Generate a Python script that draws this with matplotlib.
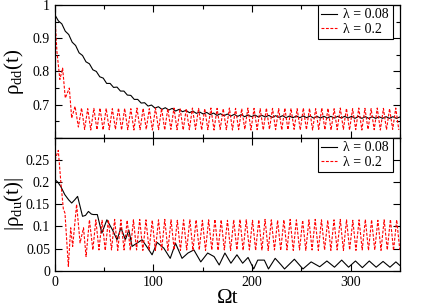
import numpy as np
import matplotlib

matplotlib.use("Agg")
import matplotlib.pyplot as plt
from matplotlib.ticker import MultipleLocator, FixedLocator, FixedFormatter

plt.rcParams["font.family"] = ["Liberation Serif", "DejaVu Serif"]
plt.rcParams["mathtext.fontset"] = "custom"
plt.rcParams["mathtext.rm"] = "Liberation Serif"
plt.rcParams["mathtext.it"] = "Liberation Serif:italic"

# ---- rho_dd(t), lambda = 0.08 (black, sampled every 3.5) ----
t_dd_slow = np.arange(0, 350.1, 3.5)
rho_dd_slow = [
    0.970, 0.952, 0.943, 0.921, 0.911, 0.888, 0.878, 0.856, 0.848, 0.829,
    0.823, 0.805, 0.800, 0.784, 0.780, 0.764, 0.764, 0.752, 0.753, 0.741,
    0.741, 0.729, 0.728, 0.716, 0.716, 0.705, 0.706, 0.696, 0.699, 0.690,
    0.694, 0.686, 0.691, 0.684, 0.689, 0.681, 0.686, 0.679, 0.683, 0.676,
    0.681, 0.674, 0.678, 0.672, 0.677, 0.670, 0.675, 0.668, 0.673, 0.667,
    0.672, 0.666, 0.671, 0.665, 0.670, 0.664, 0.669, 0.664, 0.669, 0.663,
    0.668, 0.663, 0.668, 0.662, 0.667, 0.662, 0.667, 0.661, 0.666, 0.661,
    0.666, 0.661, 0.666, 0.661, 0.666, 0.660, 0.665, 0.660, 0.665, 0.660,
    0.665, 0.660, 0.665, 0.660, 0.665, 0.660, 0.665, 0.659, 0.665, 0.659,
    0.664, 0.659, 0.664, 0.659, 0.664, 0.659, 0.664, 0.659, 0.664, 0.659,
    0.663,
]

# ---- rho_dd(t), lambda = 0.2 (red): transient + oscillating tail ----
t_dd_fast_head = [0, 2, 5, 7.8, 10.5, 14.6, 17, 20.4, 23.8]
rho_dd_fast_head = [0.968, 0.86, 0.776, 0.81, 0.72, 0.75, 0.66, 0.695, 0.633]
t_dd_fast_tail = np.linspace(27, 349, 104)
rho_dd_fast_tail = [
    0.690, 0.626, 0.688, 0.624, 0.689, 0.625, 0.690, 0.624,
    0.689, 0.625, 0.688, 0.626, 0.690, 0.624, 0.689, 0.625,
    0.688, 0.624, 0.690, 0.625, 0.689, 0.626, 0.688, 0.624,
    0.690, 0.625, 0.689, 0.624, 0.688, 0.626, 0.690, 0.625,
    0.689, 0.624, 0.688, 0.625, 0.690, 0.626, 0.689, 0.624,
    0.688, 0.625, 0.690, 0.624, 0.689, 0.626, 0.688, 0.625,
    0.690, 0.624, 0.689, 0.625, 0.688, 0.626, 0.690, 0.624,
    0.689, 0.625, 0.688, 0.624, 0.690, 0.626, 0.689, 0.625,
    0.688, 0.624, 0.690, 0.625, 0.689, 0.626, 0.688, 0.624,
    0.690, 0.625, 0.689, 0.624, 0.688, 0.626, 0.690, 0.625,
    0.689, 0.624, 0.688, 0.625, 0.690, 0.626, 0.689, 0.624,
    0.688, 0.625, 0.690, 0.624, 0.689, 0.626, 0.688, 0.625,
    0.690, 0.624, 0.689, 0.625, 0.688, 0.626, 0.690, 0.624,
]

# ---- |rho_du(t)|, lambda = 0.08 (black) ----
t_du_slow = [
    0, 3, 6, 10, 14, 17, 20, 23, 25, 28, 31, 34, 37, 39, 43, 47.6, 52.7,
    58.5, 63, 67, 71.5, 75, 78.3, 83, 88.4, 93, 98.6, 103.7, 110.5, 117,
    122.4, 129, 135, 141, 148, 155, 161.5, 166.7, 172.5, 178.6, 184.7,
    190.5, 196, 201.7, 205.8, 212.5, 216.7, 223.5, 229.6, 233, 243, 251.7,
    260, 268.7, 276, 283.7, 291, 298, 305, 312, 319, 326, 333, 340, 346, 350,
]
rho_du_slow = [
    0.206, 0.200, 0.190, 0.172, 0.160, 0.153, 0.160, 0.168, 0.150, 0.123,
    0.125, 0.134, 0.128, 0.127, 0.127, 0.085, 0.115, 0.092, 0.070, 0.097,
    0.070, 0.092, 0.055, 0.062, 0.070, 0.055, 0.036, 0.064, 0.051, 0.028,
    0.062, 0.028, 0.040, 0.047, 0.020, 0.040, 0.032, 0.013, 0.040, 0.017,
    0.036, 0.017, 0.030, 0.004, 0.024, 0.024, 0.004, 0.028, 0.013, 0.004,
    0.026, 0.004, 0.020, 0.009, 0.022, 0.008, 0.024, 0.008, 0.022, 0.007,
    0.022, 0.008, 0.021, 0.008, 0.020, 0.012,
]

# ---- |rho_du(t)|, lambda = 0.2 (red): transient + oscillating tail ----
t_du_fast_head = [0, 3.4, 6, 8.5, 10.2, 13.6, 16, 18, 22, 25.5, 29, 31.6, 35, 38.5]
rho_du_fast_head = [
    0.25, 0.272, 0.20, 0.14, 0.13, 0.01, 0.097, 0.055, 0.15, 0.063,
    0.097, 0.032, 0.115, 0.047,
]
t_du_fast_tail = np.linspace(41.5, 350, 98)
rho_du_fast_tail = [
    0.115, 0.047, 0.114, 0.046, 0.115, 0.047, 0.116, 0.046,
    0.115, 0.047, 0.114, 0.046, 0.115, 0.047, 0.116, 0.046,
    0.115, 0.047, 0.114, 0.046, 0.115, 0.047, 0.116, 0.046,
    0.115, 0.047, 0.114, 0.046, 0.115, 0.047, 0.116, 0.046,
    0.115, 0.047, 0.114, 0.046, 0.115, 0.047, 0.116, 0.046,
    0.115, 0.047, 0.114, 0.046, 0.115, 0.047, 0.116, 0.046,
    0.115, 0.047, 0.114, 0.046, 0.115, 0.047, 0.116, 0.046,
    0.115, 0.047, 0.114, 0.046, 0.115, 0.047, 0.116, 0.046,
    0.115, 0.047, 0.114, 0.046, 0.115, 0.047, 0.116, 0.046,
    0.115, 0.047, 0.114, 0.046, 0.115, 0.047, 0.116, 0.046,
    0.115, 0.047, 0.114, 0.046, 0.115, 0.047, 0.116, 0.046,
    0.115, 0.047, 0.114, 0.046, 0.115, 0.047, 0.116, 0.046,
    0.115, 0.047,
]

labels = ["\u03bb = 0.08", "\u03bb = 0.2"]
dd_yticks = [0.6, 0.7, 0.8, 0.9, 1.0]
dd_ylabels = ["", "0.7", "0.8", "0.9", "1"]
du_yticks = [0, 0.05, 0.1, 0.15, 0.2, 0.25, 0.3]
du_ylabels = ["0", "0.05", "0.1", "0.15", "0.2", "0.25", ""]

red_dash = (0, (2.6, 1.4))

fig = plt.figure(figsize=(4.36, 3.08), dpi=100)
ax1 = fig.add_axes([0.126, 0.552, 0.791, 0.432])
ax2 = fig.add_axes([0.126, 0.121, 0.791, 0.431])

ax1.plot(t_dd_slow, rho_dd_slow, color="black", lw=0.8, label=labels[0])
ax1.plot(np.concatenate([t_dd_fast_head, t_dd_fast_tail]),
         rho_dd_fast_head + rho_dd_fast_tail,
         color="#ff0000", lw=0.8, ls=red_dash, label=labels[1])

ax2.plot(t_du_slow, rho_du_slow, color="black", lw=0.8, label=labels[0])
ax2.plot(np.concatenate([t_du_fast_head, t_du_fast_tail]),
         rho_du_fast_head + rho_du_fast_tail,
         color="#ff0000", lw=0.8, ls=red_dash, label=labels[1])

for ax in (ax1, ax2):
    ax.set_xlim(0, 350)
    ax.xaxis.set_major_locator(MultipleLocator(100))
    ax.xaxis.set_minor_locator(MultipleLocator(50))
    ax.tick_params(which="both", direction="in", top=True, right=True,
                   width=0.8, labelsize=10, colors="black")
    ax.tick_params(which="major", length=5)
    ax.tick_params(which="minor", length=3)
    for sp in ax.spines.values():
        sp.set_linewidth(0.9)
    leg = ax.legend(loc="upper right", bbox_to_anchor=(0.979, 1.0),
                    borderaxespad=0, fancybox=False, framealpha=1,
                    edgecolor="black", fontsize=10, handlelength=1.1,
                    handletextpad=0.5, borderpad=0.25, labelspacing=0.1)
    leg.get_frame().set_linewidth(0.8)

ax1.set_ylim(0.6, 1.0)
ax1.yaxis.set_major_locator(FixedLocator(dd_yticks))
ax1.yaxis.set_major_formatter(FixedFormatter(dd_ylabels))
ax1.yaxis.set_minor_locator(MultipleLocator(0.05))
ax1.tick_params(axis="x", labelbottom=False)
ax1.set_ylabel("\u03c1$_{\\rm dd}$(t)", fontsize=15)
ax1.yaxis.set_label_coords(-0.085, 0.5)

ax2.set_ylim(0, 0.3)
ax2.yaxis.set_major_locator(FixedLocator(du_yticks))
ax2.yaxis.set_major_formatter(FixedFormatter(du_ylabels))
ax2.set_ylabel("|\u03c1$_{\\rm du}$(t)|", fontsize=15)
ax2.yaxis.set_label_coords(-0.085, 0.5)
ax2.set_xlabel("\u03a9t", fontsize=15)
ax2.xaxis.set_label_coords(0.5, -0.135)

fig.savefig("out.png", dpi=100)
